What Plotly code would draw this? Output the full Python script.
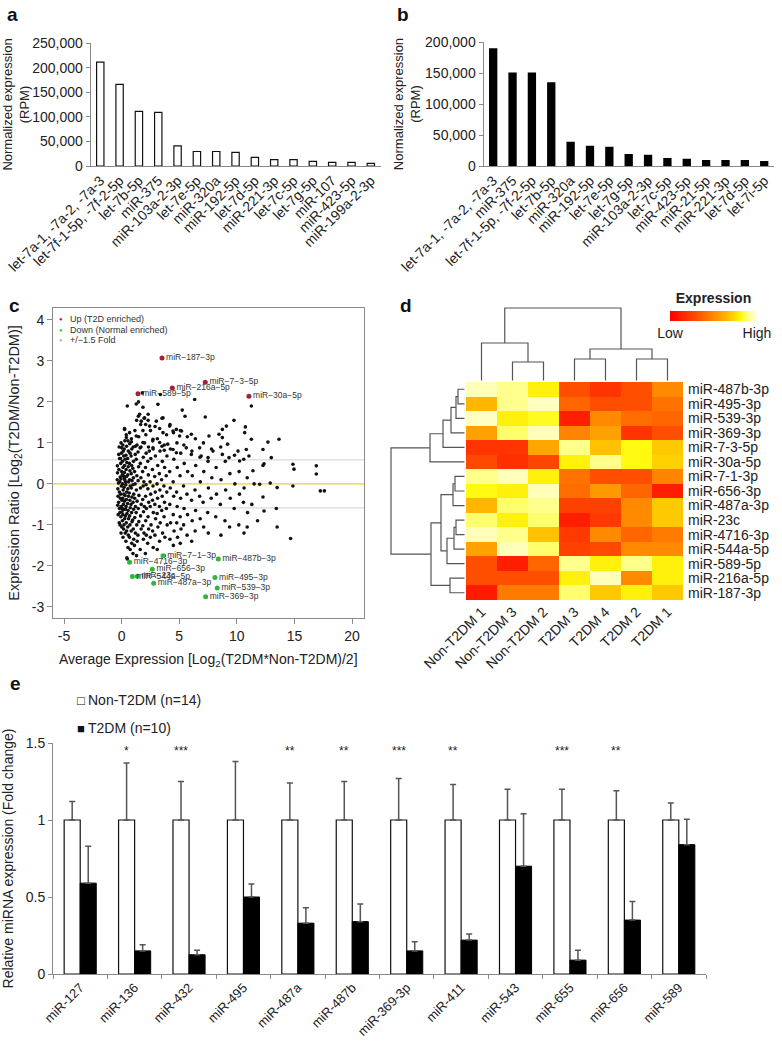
import math
import plotly.graph_objects as go

W, H = 782, 1050
FONT = "Liberation Sans, Arial, sans-serif"

# ---------------- data: panel a ----------------
a_labels = ["let-7a-1, -7a-2, -7a-3", "let-7f-1-5p, -7f-2-5p", "let-7b-5p", "miR-375",
            "miR-103a-2-3p", "let-7e-5p", "miR-320a", "miR-192-5p", "let-7d-5p",
            "miR-221-3p", "let-7c-5p", "let-7g-5p", "miR-107", "miR-423-5p", "miR-199a-2-3p"]
a_values = [211000, 166000, 111000, 109000, 41000, 29500, 29500, 27500, 17500,
            13000, 13000, 9500, 7500, 7500, 5500]

# ---------------- data: panel b ----------------
b_labels = ["let-7a-1, -7a-2, -7a-3", "miR-375", "let-7f-1-5p, -7f-2-5p", "let-7b-5p",
            "miR-320a", "miR-192-5p", "let-7e-5p", "let-7g-5p", "miR-103a-2-3p",
            "let-7c-5p", "miR-423-5p", "miR-21-5p", "miR-221-3p", "let-7d-5p", "let-7i-5p"]
b_values = [190000, 151000, 151000, 135000, 39000, 32500, 31000, 19500, 18000,
            13000, 11500, 9800, 9800, 9800, 8200]

# ---------------- data: panel c (MA plot) ----------------
ma_upper = [(0.49, 1.9), (1.27, 1.95), (1.85, 1.87), (3.15, 1.94), (5.26, 1.8), (6.34, 2.06),
            (11.26, 1.9), (1.8, 2.22), (3.36, 2.18), (2.3, 1.7), (1.56, 1.7), (1.99, 1.61),
            (1.7, 1.53), (2.08, 1.45), (2.43, 1.41), (3.01, 1.53), (3.59, 1.61), (4.17, 1.41),
            (4.75, 1.33), (5.2, 1.29), (5.5, 1.65), (7.26, 1.63), (8.74, 1.33), (9.09, 1.41),
            (9.75, 1.55), (10.74, 1.39), (10.68, 1.25), (9.2, 0.97), (8.45, 1.21), (8.74, 1.13),
            (7.58, 1.17), (6.05, 1.21), (5.03, 1.17), (4.46, 1.29), (4.0, 0.97), (3.59, 1.25),
            (2.72, 1.09), (3.3, 1.01), (1.85, 1.01), (1.27, 1.17), (0.69, 1.25), (0.26, 1.33),
            (0.41, 1.13), (0.84, 1.03), (1.2, 0.92), (1.6, 0.88), (2.72, 0.88), (2.4, 0.8),
            (3.5, 0.92), (3.7, 0.82), (4.46, 0.84), (4.75, 0.76), (5.61, 0.88), (6.05, 0.72),
            (6.77, 0.88), (6.9, 0.68), (7.5, 0.64), (7.93, 0.8), (8.74, 0.72), (9.32, 0.64),
            (10.1, 0.8), (10.82, 0.84), (11.05, 0.68), (10.24, 0.56), (11.26, 1.09), (12.27, 0.84),
            (12.7, 1.02), (13.66, 1.09), (12.99, 0.64), (12.36, 0.49)]
ma_strip = [(-0.38, 0.1), (-0.33, -0.12), (-0.36, 0.27), (-0.31, -0.3), (-0.37, 0.44), (-0.34, -0.52),
            (-0.22, 0.9), (-0.18, 0.62), (-0.24, 0.35), (-0.16, 0.05), (-0.2, -0.2), (-0.26, -0.45),
            (-0.15, -0.7), (-0.21, -0.95), (-0.12, 0.17), (-0.19, -0.6),
            (-0.05, 1.0), (-0.02, 0.75), (-0.08, 0.5), (0.0, 0.3), (-0.06, 0.12), (-0.03, -0.05),
            (-0.09, -0.25), (0.02, -0.4), (-0.04, -0.55), (-0.07, -0.8), (0.01, -1.05), (-0.05, -1.2),
            (-0.1, 0.62), (0.03, -0.68),
            (0.1, 0.95), (0.14, 0.8), (0.07, 0.55), (0.12, 0.4), (0.16, 0.2), (0.08, 0.0),
            (0.13, -0.15), (0.09, -0.35), (0.15, -0.5), (0.11, -0.75), (0.06, -0.9), (0.17, -1.1),
            (0.12, -1.3), (0.18, 0.68), (0.05, -0.6),
            (0.25, 1.35), (0.28, 1.05), (0.22, 0.85), (0.3, 0.6), (0.24, 0.28), (0.27, 0.1),
            (0.21, -0.08), (0.29, -0.28), (0.23, -0.42), (0.32, -0.62), (0.26, -0.85), (0.2, -1.0),
            (0.31, -1.2), (0.25, 0.45),
            (0.4, 1.2), (0.43, 0.92), (0.37, 0.7), (0.45, 0.52), (0.39, 0.35), (0.42, 0.18),
            (0.36, -0.02), (0.44, -0.2), (0.41, -0.38), (0.38, -0.55), (0.46, -0.72), (0.4, -0.95),
            (0.43, -1.15), (0.37, -1.4),
            (-0.28, 0.02), (-0.11, -0.35), (0.05, 0.22), (0.19, -0.25), (0.33, 0.05), (-0.25, 0.72),
            (-0.14, -1.0), (0.0, 0.88), (0.15, -0.62), (0.34, -0.78), (-0.3, -0.75), (0.22, 0.15)]
ma_band1 = [(0.55, 1.05), (0.58, 0.8), (0.52, 0.62), (0.57, 0.42), (0.53, 0.22), (0.6, 0.05),
            (0.54, -0.12), (0.59, -0.3), (0.51, -0.48), (0.56, -0.65), (0.6, -0.85), (0.53, -1.05),
            (0.58, -1.25), (0.55, -1.55),
            (0.7, 0.98), (0.73, 0.75), (0.67, 0.5), (0.72, 0.32), (0.68, 0.1), (0.74, -0.05),
            (0.66, -0.22), (0.71, -0.4), (0.75, -0.58), (0.69, -0.78), (0.72, -1.0), (0.68, -1.3),
            (0.74, -1.6), (0.45, -1.8), (0.49, -1.83),
            (0.85, 1.1), (0.88, 0.85), (0.82, 0.68), (0.87, 0.45), (0.83, 0.25), (0.9, 0.08),
            (0.84, -0.1), (0.89, -0.32), (0.81, -0.5), (0.86, -0.7), (0.9, -0.92), (0.83, -1.15),
            (0.88, -1.45),
            (1.0, 0.9), (1.03, 0.55), (0.97, 0.38), (1.02, 0.15), (0.98, -0.02), (1.05, -0.25),
            (0.99, -0.45), (1.04, -0.62), (0.96, -0.88), (1.01, -1.1), (1.05, -1.35), (0.98, -1.7)]
ma_band2 = [(1.15, 1.3), (1.18, 0.72), (1.12, 0.3), (1.17, 0.0), (1.13, -0.35), (1.2, -0.55),
            (1.14, -0.82), (1.19, -1.2), (1.11, -1.5),
            (1.3, 1.55), (1.33, 0.95), (1.27, 0.6), (1.32, 0.2), (1.28, -0.15), (1.34, -0.42),
            (1.26, -0.7), (1.31, -1.0), (1.35, -1.4), (1.29, -1.75),
            (1.45, 1.65), (1.48, 1.15), (1.42, 0.78), (1.47, 0.42), (1.43, 0.08), (1.5, -0.28),
            (1.44, -0.6), (1.49, -0.92), (1.41, -1.25), (1.46, 2.0),
            (1.65, 1.45), (1.68, 0.9), (1.62, 0.5), (1.67, 0.15), (1.63, -0.1), (1.7, -0.5),
            (1.64, -0.78), (1.69, -1.1), (1.61, -1.6),
            (1.85, 1.3), (1.88, 0.65), (1.82, 0.3), (1.87, -0.05), (1.83, -0.38), (1.9, -0.68),
            (1.84, -1.02), (1.89, -1.35),
            (1.95, 1.6), (1.98, 1.0), (1.93, 0.05), (1.97, -0.55), (1.94, -1.2)]
ma_band3 = [(2.1, 1.2), (2.13, 0.75), (2.07, 0.4), (2.12, -0.02), (2.08, -0.3), (2.15, -0.6),
            (2.09, -0.9), (2.14, -1.25), (2.06, -1.7),
            (2.3, 1.55), (2.33, 0.9), (2.27, 0.55), (2.32, 0.22), (2.28, -0.12), (2.35, -0.45),
            (2.29, -0.8), (2.34, -1.1), (2.26, -1.45),
            (2.5, 1.3), (2.53, 0.62), (2.47, 0.05), (2.52, -0.25), (2.48, -0.55), (2.55, -1.0),
            (2.49, -1.3),
            (2.7, 1.05), (2.73, 0.85), (2.67, 0.35), (2.72, -0.05), (2.68, -0.4), (2.75, -0.7),
            (2.69, -1.15), (2.74, -1.55),
            (2.9, 1.4), (2.93, 0.68), (2.87, 0.18), (2.92, -0.2), (2.88, -0.5), (2.95, -0.85),
            (2.89, -1.25)]
ma_band4 = [(3.1, 1.1), (3.13, 0.45), (3.07, 0.0), (3.12, -0.35), (3.08, -0.72), (3.15, -1.05),
            (3.09, -1.6),
            (3.3, 1.35), (3.33, 0.8), (3.27, 0.25), (3.32, -0.15), (3.28, -0.55), (3.35, -0.95),
            (3.29, -1.4),
            (3.5, 1.6), (3.53, 0.55), (3.47, 0.1), (3.52, -0.3), (3.48, -0.65), (3.55, -1.2),
            (3.7, 0.95), (3.73, 0.4), (3.67, -0.05), (3.72, -0.45), (3.68, -0.8), (3.75, -1.3),
            (3.69, -1.75),
            (3.9, 1.2), (3.93, 0.68), (3.87, 0.2), (3.92, -0.2), (3.88, -0.6), (3.95, -1.0)]
ma_band5 = [(4.2, 1.45), (4.23, 0.85), (4.17, 0.3), (4.22, -0.1), (4.18, -0.5), (4.25, -0.95),
            (4.19, -1.35),
            (4.5, 1.25), (4.53, 0.6), (4.47, 0.05), (4.52, -0.3), (4.48, -0.75), (4.55, -1.15),
            (4.49, -1.5),
            (4.8, 1.0), (4.83, 0.4), (4.77, -0.2), (4.82, -0.55), (4.78, -0.95), (4.85, -1.3),
            (5.1, 1.3), (5.13, 0.75), (5.07, 0.2), (5.12, -0.35), (5.08, -0.8), (5.15, -1.1),
            (5.09, -1.45),
            (5.4, 0.95), (5.43, 0.5), (5.37, -0.05), (5.42, -0.6), (5.38, -1.0),
            (5.7, 1.15), (5.73, 0.3), (5.67, -0.25), (5.72, -0.75), (5.68, -1.25)]
ma_band6 = [(6.1, 0.8), (6.13, 0.2), (6.07, -0.4), (6.12, -0.9), (6.08, -1.4),
            (6.4, 1.1), (6.43, 0.45), (6.37, -0.15), (6.42, -0.65), (6.38, -1.15),
            (6.8, 0.65), (6.83, 0.05), (6.77, -0.3), (6.82, -0.85),
            (7.1, 1.0), (7.13, 0.3), (7.07, -0.45), (7.12, -1.05),
            (7.5, 0.55), (7.53, -0.1), (7.47, -0.7), (7.52, -1.2),
            (7.8, 0.85), (7.83, 0.15), (7.77, -0.35)]
ma_band7 = [(8.2, 0.4), (8.23, -0.25), (8.17, -0.8), (8.6, 0.9), (8.63, 0.1), (8.57, -0.5),
            (8.62, -1.25), (9.0, 0.55), (9.03, -0.15), (8.97, -0.9), (9.4, 0.25), (9.43, -0.35),
            (9.37, -1.05), (9.8, 0.7), (9.83, 0.0), (9.77, -0.6), (10.2, 0.3), (10.23, -0.25),
            (10.17, -1.0), (10.6, 0.6), (10.63, -0.1), (10.57, -0.45), (10.62, -1.2),
            (10.9, 0.15), (10.93, -0.7)]
ma_right = [(11.4, 0.32), (11.5, 0.0), (11.98, -0.01), (12.27, -0.32), (12.36, -0.66),
            (12.27, 0.45), (12.9, 0.02), (11.3, -0.5), (10.9, -1.05), (13.5, -0.09),
            (13.43, -0.6), (13.5, -1.05), (14.67, -1.33), (14.87, -0.05), (14.96, 0.36),
            (14.87, 0.48), (16.9, 0.44), (16.9, 0.24), (17.25, -0.17), (17.6, -0.17), (11.8, -0.9)]

up_names = ["miR\u2212187\u22123p", "miR\u22127\u22123\u22125p", "miR\u2212216a\u22125p",
            "miR\u2212589\u22125p", "miR\u221230a\u22125p"]
up_x = [3.5, 7.26, 4.4, 1.42, 11.05]
up_y = [3.07, 2.48, 2.34, 2.2, 2.14]
down_names = ["miR\u22127\u22121\u22123p", "miR\u22124716\u22123p", "miR\u2212487b\u22123p",
              "miR\u2212656\u22123p", "miR\u2212544a\u22125p", "miR\u221223c", "miR\u2212487a\u22123p",
              "miR\u2212495\u22123p", "miR\u2212539\u22123p", "miR\u2212369\u22123p"]
down_x = [3.59, 0.69, 8.39, 2.66, 0.93, 1.36, 2.78, 8.1, 8.3, 7.29]
down_y = [-1.75, -1.91, -1.83, -2.08, -2.26, -2.25, -2.42, -2.28, -2.54, -2.75]
fold_change = 1.5

# ---------------- data: panel d (heatmap) ----------------
hm_cols = ["Non-T2DM 1", "Non-T2DM 3", "Non-T2DM 2", "T2DM 3", "T2DM 4", "T2DM 2", "T2DM 1"]
hm_rows = ["miR-487b-3p", "miR-495-3p", "miR-539-3p", "miR-369-3p", "miR-7-3-5p", "miR-30a-5p",
           "miR-7-1-3p", "miR-656-3p", "miR-487a-3p", "miR-23c", "miR-4716-3p", "miR-544a-5p",
           "miR-589-5p", "miR-216a-5p", "miR-187-3p"]
hm_z = [
    [0.95, 0.90, 0.80, 0.30, 0.20, 0.30, 0.50],
    [0.65, 0.90, 0.96, 0.38, 0.30, 0.30, 0.42],
    [0.96, 0.80, 0.83, 0.12, 0.50, 0.40, 0.38],
    [0.58, 0.88, 0.95, 0.48, 0.58, 0.20, 0.30],
    [0.20, 0.20, 0.60, 0.90, 0.68, 0.82, 0.70],
    [0.28, 0.18, 0.27, 0.80, 0.90, 0.82, 0.72],
    [0.90, 0.95, 0.80, 0.42, 0.30, 0.30, 0.48],
    [0.82, 0.80, 0.95, 0.40, 0.55, 0.38, 0.12],
    [0.65, 0.88, 0.90, 0.25, 0.25, 0.50, 0.70],
    [0.88, 0.80, 0.88, 0.12, 0.22, 0.50, 0.70],
    [0.95, 0.90, 0.68, 0.22, 0.50, 0.38, 0.45],
    [0.58, 0.95, 0.88, 0.25, 0.28, 0.50, 0.50],
    [0.30, 0.12, 0.38, 0.90, 0.80, 0.90, 0.80],
    [0.30, 0.30, 0.30, 0.80, 0.95, 0.50, 0.80],
    [0.10, 0.45, 0.45, 0.88, 0.70, 0.80, 0.70],
]
# dendrogram merges: (node_a, node_b, height); nodes >= n_leaves are earlier merges
row_merges = [(0, 1, 8), (15, 2, 10), (16, 3, 15), (17, 4, 23), (18, 5, 36),
              (6, 7, 11), (20, 8, 13), (9, 10, 10), (22, 11, 12), (23, 12, 19),
              (21, 24, 25), (13, 14, 16), (25, 26, 35), (19, 27, 75)]
col_merges = [(1, 2, 20), (0, 7, 39), (3, 4, 23), (5, 6, 23), (9, 10, 33), (8, 11, 74)]

# ---------------- data: panel e ----------------
e_mirnas = ["miR-127", "miR-136", "miR-432", "miR-495", "miR-487a", "miR-487b", "miR-369-3p",
            "miR-411", "miR-543", "miR-655", "miR-656", "miR-589"]
e_non = [1.0, 1.0, 1.0, 1.0, 1.0, 1.0, 1.0, 1.0, 1.0, 1.0, 1.0, 1.0]
e_non_err = [0.12, 0.37, 0.25, 0.38, 0.24, 0.25, 0.27, 0.23, 0.20, 0.20, 0.19, 0.11]
e_t2d = [0.59, 0.15, 0.125, 0.50, 0.33, 0.34, 0.15, 0.22, 0.70, 0.09, 0.35, 0.84]
e_t2d_err = [0.24, 0.04, 0.03, 0.085, 0.10, 0.115, 0.06, 0.04, 0.34, 0.065, 0.12, 0.165]
e_stars = ["", "*", "***", "", "**", "**", "***", "**", "", "***", "**", ""]


def dx(p0, p1):
    return [p0 / W, p1 / W]


def dy(top, bottom):
    return [1 - bottom / H, 1 - top / H]


def px(x):
    return x / W


def py(y):
    return 1 - y / H


def dendro(n_leaves, merges, base):
    pos = {i: float(i) for i in range(n_leaves)}
    hgt = {i: base for i in range(n_leaves)}
    p_list, h_list = [], []
    for k, (a, b, h) in enumerate(merges):
        p_list += [pos[a], pos[a], pos[b], pos[b], None]
        h_list += [hgt[a], h, h, hgt[b], None]
        pos[n_leaves + k] = (pos[a] + pos[b]) / 2
        hgt[n_leaves + k] = h
    return p_list, h_list


fig = go.Figure()

# ---- panel a
fig.add_trace(go.Bar(x=a_labels, y=a_values, width=0.38,
                     marker=dict(color="white", line=dict(color="#111", width=1.2)),
                     xaxis="x", yaxis="y", showlegend=False))
# ---- panel b
fig.add_trace(go.Bar(x=b_labels, y=b_values, width=0.43, marker=dict(color="#000", line=dict(width=0)),
                     xaxis="x2", yaxis="y2", showlegend=False))

# ---- panel c
cloud = (ma_upper + ma_strip + ma_band1 + ma_band2 + ma_band3 + ma_band4 + ma_band5 + ma_band6
         + ma_band7 + ma_right)
fig.add_trace(go.Scatter(x=[p[0] for p in cloud], y=[p[1] for p in cloud], mode="markers",
                         marker=dict(size=3.6, color="#111"), xaxis="x3", yaxis="y3", showlegend=False,
                         hoverinfo="skip"))
fig.add_trace(go.Scatter(x=up_x, y=up_y, mode="markers+text", text=up_names, textposition="middle right",
                         textfont=dict(size=8.5, color="#333"),
                         marker=dict(size=5, color="#A3203A"), xaxis="x3", yaxis="y3", showlegend=False))
fig.add_trace(go.Scatter(x=down_x, y=down_y, mode="markers+text", text=down_names, textposition="middle right",
                         textfont=dict(size=8.5, color="#333"),
                         marker=dict(size=5, color="#2DB83D"), xaxis="x3", yaxis="y3", showlegend=False))

# ---- panel d heatmap
heat_scale = [[0.0, "#FF0000"], [0.3, "#FF4E00"], [0.5, "#FF8A00"], [0.65, "#FFB600"],
              [0.75, "#FFDC00"], [0.82, "#FFFA10"], [0.9, "#FFFF8C"], [1.0, "#FFFFE6"]]
fig.add_trace(go.Heatmap(z=hm_z, x=list(range(len(hm_cols))), y=list(range(len(hm_rows))),
                         colorscale=heat_scale, zmin=0, zmax=1, xaxis="x4", yaxis="y4",
                         hoverinfo="skip",
                         colorbar=dict(orientation="h", x=px(670), xanchor="left", y=py(295), yanchor="top",
                                       lenmode="pixels", len=87, thicknessmode="pixels", thickness=10,
                                       xpad=0, ypad=0, outlinewidth=0, tickvals=[0, 1],
                                       ticktext=["Low", "High"],
                                       ticks="", tickfont=dict(size=14, color="#222"),
                                       title=dict(text="<b>Expression</b>", side="top",
                                                  font=dict(size=14, color="#222")))))
rp, rh = dendro(len(hm_rows), row_merges, 1.5)
fig.add_trace(go.Scatter(x=rh, y=rp, mode="lines", line=dict(color="#555", width=1.2),
                         xaxis="x7", yaxis="y4", showlegend=False, hoverinfo="skip"))
cp, ch = dendro(len(hm_cols), col_merges, 1.5)
fig.add_trace(go.Scatter(x=cp, y=ch, mode="lines", line=dict(color="#555", width=1.2),
                         xaxis="x4", yaxis="y8", showlegend=False, hoverinfo="skip"))

# ---- panel e
fig.add_trace(go.Bar(x=e_mirnas, y=e_non, name="Non-T2DM (n=14)",
                     marker=dict(color="white", line=dict(color="#111", width=1.2)),
                     error_y=dict(type="data", symmetric=False, array=e_non_err,
                                  arrayminus=[0] * len(e_non), color="#555", thickness=1.5, width=3),
                     xaxis="x5", yaxis="y5", showlegend=False))
fig.add_trace(go.Bar(x=e_mirnas, y=e_t2d, name="T2DM (n=10)",
                     marker=dict(color="#000", line=dict(color="#000", width=1)),
                     error_y=dict(type="data", symmetric=False, array=e_t2d_err,
                                  arrayminus=[0] * len(e_t2d), color="#555", thickness=1.5, width=3),
                     xaxis="x5", yaxis="y5", showlegend=False))

axcol = "#8a8a8a"
tf = dict(size=14, color="#222")
ann = []
for lab, x0, y0 in [("a", 5, 15), ("b", 395, 15), ("c", 7, 305), ("d", 398, 305), ("e", 8, 683)]:
    ann.append(dict(text="<b>%s</b>" % lab, x=px(x0), y=py(y0), xref="paper", yref="paper",
                    xanchor="left", yanchor="middle", showarrow=False, font=dict(size=19, color="#111")))
# panel c x-axis title
ann.append(dict(text="Average Expression [Log<sub>2</sub>(T2DM*Non-T2DM)/2]", x=px(208.5), y=py(660),
                xref="paper", yref="paper", xanchor="center", yanchor="middle", showarrow=False,
                font=dict(size=14, color="#222")))
# panel c legend
for col, txt, yy in [("#C0283C", "Up (T2D enriched)", 319),
                     ("#33CC33", "Down (Normal enriched)", 330),
                     ("#BBBBBB", "+/\u22121.5 Fold", 340)]:
    ann.append(dict(text="\u25CF", x=px(61), y=py(yy), xref="paper", yref="paper", xanchor="center",
                    yanchor="middle", showarrow=False, font=dict(size=6, color=col)))
    ann.append(dict(text=txt, x=px(68), y=py(yy), xref="paper", yref="paper", xanchor="left",
                    yanchor="middle", showarrow=False, font=dict(size=9, color="#333")))
# panel e legend
ann.append(dict(text="\u25A1", x=px(81), y=py(700), xref="paper", yref="paper", xanchor="center",
                yanchor="middle", showarrow=False, font=dict(size=13, color="#111")))
ann.append(dict(text="Non-T2DM (n=14)", x=px(86), y=py(700), xref="paper", yref="paper", xanchor="left",
                yanchor="middle", showarrow=False, font=tf))
ann.append(dict(text="\u25A0", x=px(81), y=py(728), xref="paper", yref="paper", xanchor="center",
                yanchor="middle", showarrow=False, font=dict(size=13, color="#111")))
ann.append(dict(text="T2DM (n=10)", x=px(86), y=py(728), xref="paper", yref="paper", xanchor="left",
                yanchor="middle", showarrow=False, font=tf))
# significance stars
for m, s in zip(e_mirnas, e_stars):
    if s:
        ann.append(dict(text=s, x=m, y=1.45, xref="x5", yref="y5", xshift=-8, showarrow=False,
                        yanchor="middle", font=dict(size=12, color="#222")))

shapes = []
fold = math.log2(fold_change)
for yv in [fold, -fold]:
    shapes.append(dict(type="line", xref="x3 domain", yref="y3", x0=0, x1=1, y0=yv, y1=yv,
                       line=dict(color="#D9D9D9", width=1.2), layer="below"))
shapes.append(dict(type="line", xref="x3 domain", yref="y3", x0=0, x1=1, y0=0, y1=0,
                   line=dict(color="#E6D24A", width=1.3), layer="below"))

common_bar_y = dict(showline=True, linecolor=axcol, linewidth=1, ticks="outside", ticklen=4,
                    tickcolor=axcol, showgrid=False, zeroline=False, tickfont=tf, tickformat=",d")
common_bar_x = dict(showline=True, linecolor=axcol, linewidth=1, ticks="", showgrid=False,
                    tickangle=-45, tickfont=tf)

fig.update_layout(
    width=W, height=H, margin=dict(l=0, r=0, t=0, b=0, autoexpand=False),
    paper_bgcolor="white", plot_bgcolor="rgba(0,0,0,0)",
    font=dict(family=FONT, color="#222"),
    barmode="group", bargap=0.41, bargroupgap=0.0,
    xaxis=dict(domain=dx(90.6, 380.5), anchor="y", range=[-0.5, 14.5], **common_bar_x),
    yaxis=dict(domain=dy(43, 166), anchor="x", range=[0, 250000],
               tickvals=[0, 50000, 100000, 150000, 200000, 250000],
               title=dict(text="Normalized expression<br>(RPM)", font=dict(size=13, color="#222"), standoff=1),
               **common_bar_y),
    xaxis2=dict(domain=dx(483.5, 773.9), anchor="y2", range=[-0.5, 14.5], **common_bar_x),
    yaxis2=dict(domain=dy(42, 166), anchor="x2", range=[0, 200000],
                tickvals=[0, 50000, 100000, 150000, 200000],
                title=dict(text="Normalized expression<br>(RPM)", font=dict(size=13, color="#222"), standoff=1),
                **common_bar_y),
    xaxis3=dict(domain=dx(53, 364), anchor="y3", range=[-5.96, 21.04], tickvals=[-5, 0, 5, 10, 15, 20],
                ticktext=[str(v) for v in [-5, 0, 5, 10, 15, 20]], showline=True, mirror=True,
                linecolor=axcol, linewidth=1, ticks="outside", ticklen=5, tickcolor=axcol,
                showgrid=False, zeroline=False, tickfont=tf),
    yaxis3=dict(domain=dy(308, 618), anchor="x3", range=[-3.27, 4.29], tickvals=[-3, -2, -1, 0, 1, 2, 3, 4],
                ticktext=[str(v) for v in [-3, -2, -1, 0, 1, 2, 3, 4]], showline=True, mirror=True,
                linecolor=axcol, linewidth=1, ticks="outside", ticklen=5, tickcolor=axcol,
                showgrid=False, zeroline=False, tickfont=tf,
                title=dict(text="Expression Ratio [Log<sub>2</sub>(T2DM/Non-T2DM)]",
                           font=dict(size=14.5, color="#222"), standoff=8)),
    xaxis4=dict(domain=dx(466, 683), anchor="y4", range=[-0.5, 6.5], tickvals=list(range(len(hm_cols))),
                ticktext=hm_cols, tickangle=-45, ticks="", showgrid=False, zeroline=False, showline=False,
                tickfont=tf),
    yaxis4=dict(domain=dy(382, 600), anchor="x4", range=[14.5, -0.5], side="right",
                tickvals=list(range(len(hm_rows))), ticktext=hm_rows, ticks="", showgrid=False,
                zeroline=False, showline=False, tickfont=tf, ticklabelstandoff=4),
    xaxis7=dict(domain=dx(390, 466), anchor="y4", range=[76, 0], visible=False),
    yaxis8=dict(domain=dy(306, 382), anchor="x4", range=[0, 76], visible=False),
    xaxis5=dict(domain=dx(53, 706), anchor="y5", range=[-0.5, 11.5], showline=True, linecolor=axcol,
                linewidth=1, ticks="outside", ticklen=4, tickcolor=axcol, tickson="boundaries",
                tickangle=-45, tickfont=dict(size=13, color="#222"), showgrid=False),
    yaxis5=dict(domain=dy(743, 974), anchor="x5", range=[0, 1.5], tickvals=[0, 0.5, 1, 1.5],
                ticktext=["0", "0.5", "1", "1.5"], showline=True, linecolor=axcol, linewidth=1,
                ticks="outside", ticklen=4, tickcolor=axcol, showgrid=False, zeroline=False, tickfont=tf,
                title=dict(text="Relative miRNA expression (Fold change)", font=dict(size=14, color="#222"),
                           standoff=8)),
    annotations=ann, shapes=shapes,
)

fig.write_html("out.html", config={"displayModeBar": False},
               post_script="document.body.style.margin='0';document.body.style.overflow='hidden';")
